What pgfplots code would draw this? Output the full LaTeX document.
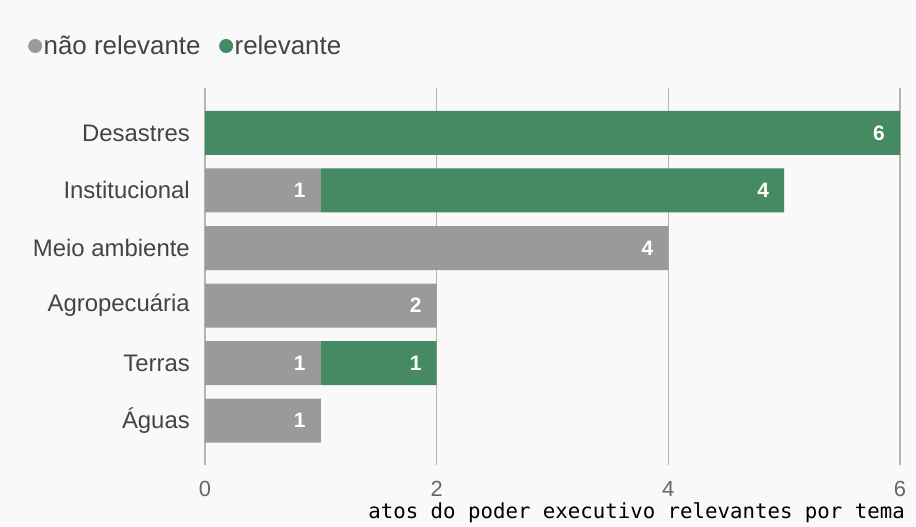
\documentclass[border=0pt]{standalone}
\usepackage{pgfplots}
\pgfplotsset{compat=1.18}
\usepackage{fontspec}
\setmainfont{Liberation Sans}
\newfontfamily\monofont{DejaVu Sans Mono}
\definecolor{bg}{HTML}{F9F9F9}
\definecolor{gr}{HTML}{9A9A9A}
\definecolor{gn}{HTML}{468A63}
\definecolor{txt}{HTML}{444444}
\definecolor{tick}{HTML}{666666}
\definecolor{gridc}{HTML}{B5B5B5}
\begin{document}
\begin{tikzpicture}
\fill[bg] (-205bp,-62bp) rectangle (711bp,465bp);
\path[use as bounding box] (-205bp,-62bp) rectangle (711bp,465bp);
\begin{axis}[
  at={(0,0)}, anchor=south west,
  scale only axis, width=695bp, height=377bp,
  xbar stacked, bar width=44bp,
  xmin=0, xmax=6, ymin=-0.77, ymax=5.78,
  ytick={0,1,2,3,4,5},
  yticklabels={Águas,Terras,Agropecuária,Meio ambiente,Institucional,Desastres},
  xtick={0,2,4,6},
  xmajorgrids, grid style={gridc, line width=1.3bp},
  axis line style={draw=none},
  major tick length=0pt,
  yticklabel style={font=\fontsize{24}{26}\selectfont, text=txt, inner sep=0pt, xshift=-15bp},
  xticklabel style={font=\fontsize{22}{24}\selectfont, text=tick, inner sep=0pt, yshift=-16bp},
  /pgf/number format/assume math mode=true,
  point meta=explicit,
  visualization depends on={rawx \as \rawx},
  nodes near coords={\pgfmathfloatifflags{\pgfplotspointmeta}{0}{}{\pgfmathprintnumber{\pgfplotspointmeta}}},
  nodes near coords style={font=\bfseries\fontsize{21}{22}\selectfont, text=white, anchor=east, inner sep=0pt, xshift={\rawx*57.917bp-15bp}},
  legend columns=2,
  legend style={at={(-0.2547,1.1114)}, anchor=west, draw=none, fill=none, inner sep=0pt,
    font=\fontsize{26}{28}\selectfont, text=txt,
    nodes={inner sep=1.5bp},
    /tikz/every even column/.append style={column sep=17bp}},
]
\addplot[fill=gr, draw=none,
  legend image code/.code={\fill[gr] (0bp,0bp) circle (7bp);}]
  coordinates {(1,0)[1] (1,1)[1] (2,2)[2] (4,3)[4] (1,4)[1] (0,5)[0]};
\addplot[fill=gn, draw=none,
  legend image code/.code={\fill[gn] (0bp,0bp) circle (7bp);}]
  coordinates {(0,0)[0] (1,1)[1] (0,2)[0] (0,3)[0] (4,4)[4] (6,5)[6]};
\legend{não relevante, relevante}
\end{axis}
\node[anchor=base east, font=\monofont\fontsize{20.8}{22}\selectfont, text=black, inner sep=0pt] at (700bp,-53bp) {atos do poder executivo relevantes por tema};
\end{tikzpicture}
\end{document}
